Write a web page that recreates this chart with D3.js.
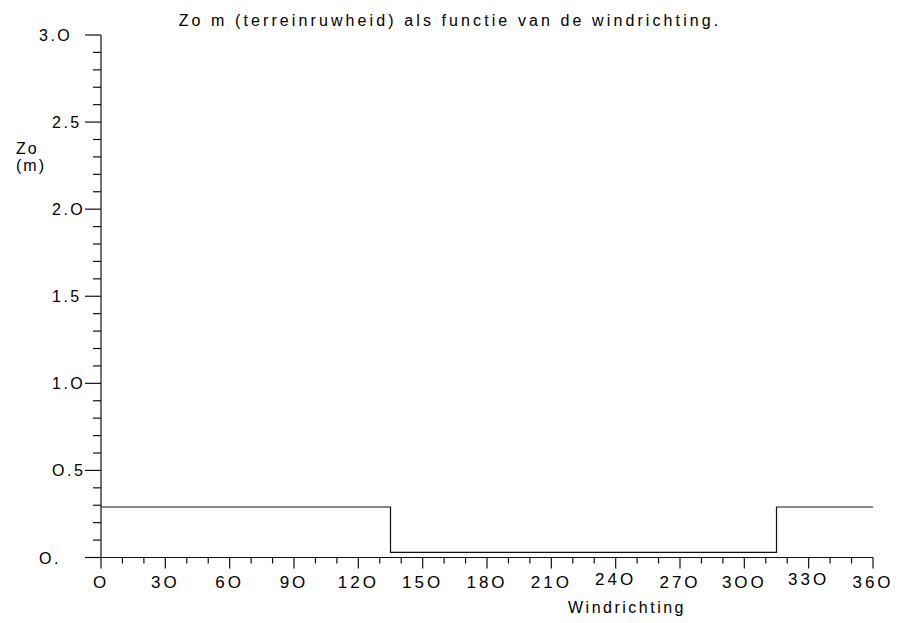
<!DOCTYPE html>
<html>
<head>
<meta charset="utf-8">
<script src="https://cdn.jsdelivr.net/npm/d3@7"></script>
<style>
  html, body { margin: 0; padding: 0; background: #fff; }
  svg { display: block; }
  text { font-family: "Liberation Sans", Arial, Helvetica, sans-serif; fill: #000; }
</style>
</head>
<body>
<svg id="chart" width="898" height="623"></svg>
<script>
// Roughness length Zo per wind-direction sector (degrees, metres)
const sectorStart = [0, 135, 315];
const sectorEnd   = [135, 315, 360];
const zoValues    = [0.29, 0.03, 0.29];

// Axis tick values and their printed labels
const xTickValues = [0, 30, 60, 90, 120, 150, 180, 210, 240, 270, 300, 330, 360];
const xTickLabels = ["O", "3O", "6O", "9O", "12O", "15O", "18O", "21O", "24O", "27O", "3OO", "33O", "36O"];
const yTickValues = [0, 0.5, 1.0, 1.5, 2.0, 2.5, 3.0];
const yTickLabels = ["O.", "O.5", "1.O", "1.5", "2.O", "2.5", "3.O"];

const titleText = "Zo m (terreinruwheid) als functie van de windrichting.";
const xTitle = "Windrichting";
const yTitle = ["Zo", "(m)"];

const svg = d3.select("#chart");

const x = d3.scaleLinear().domain([0, 360]).range([101, 873]);
const y = d3.scaleLinear().domain([0, 3]).range([557.5, 35]);

// Step line built from the sector table
const stepPts = [];
sectorStart.forEach((s, i) => {
  stepPts.push([s, zoValues[i]]);
  stepPts.push([sectorEnd[i], zoValues[i]]);
});
svg.append("path")
  .datum(stepPts)
  .attr("fill", "none")
  .attr("stroke", "#111")
  .attr("stroke-width", 1.2)
  .attr("d", d3.line().x(d => x(d[0])).y(d => y(d[1])));

// X axis: minor ticks every 10 degrees, major every 30
const xAxisG = svg.append("g").attr("transform", `translate(0,${y(0)})`);
xAxisG.append("line")
  .attr("x1", 85).attr("x2", x(360))
  .attr("stroke", "#111").attr("stroke-width", 1.2);
xAxisG.selectAll("line.minor")
  .data(d3.range(0, 361, 10))
  .join("line")
  .attr("class", "minor")
  .attr("x1", d => x(d)).attr("x2", d => x(d))
  .attr("y1", 0).attr("y2", d => d % 30 === 0 ? 11 : 6)
  .attr("stroke", "#111").attr("stroke-width", 1.2);
const xLift = { 240: -3, 330: -3 };
xAxisG.selectAll("text.tick")
  .data(xTickValues)
  .join("text")
  .attr("class", "tick")
  .attr("x", d => x(d))
  .attr("y", d => 30 + (xLift[d] || 0))
  .attr("text-anchor", "middle")
  .style("font-size", "17px")
  .style("letter-spacing", "3px")
  .text((d, i) => xTickLabels[i]);

// Y axis: minor ticks every 0.1, major every 0.5
const yAxisG = svg.append("g").attr("transform", `translate(${x(0)},0)`);
yAxisG.append("line")
  .attr("y1", y(3)).attr("y2", y(0))
  .attr("stroke", "#111").attr("stroke-width", 1.2);
yAxisG.selectAll("line.minor")
  .data(d3.range(0, 31).map(d => d / 10))
  .join("line")
  .attr("class", "minor")
  .attr("y1", d => y(d)).attr("y2", d => y(d))
  .attr("x1", (d, i) => i % 5 === 0 ? -16 : -8).attr("x2", 0)
  .attr("stroke", "#111").attr("stroke-width", 1.2);
yAxisG.selectAll("text.tick")
  .data(yTickValues)
  .join("text")
  .attr("class", "tick")
  .attr("x", (d, i) => (i === 0 || i === yTickValues.length - 1) ? -62 : -49)
  .attr("y", d => y(d) + 6)
  .style("font-size", "16px")
  .style("letter-spacing", "2.5px")
  .text((d, i) => yTickLabels[i]);

// Titles
svg.append("text")
  .attr("x", 450).attr("y", 26)
  .attr("text-anchor", "middle")
  .style("font-size", "16px")
  .style("letter-spacing", "3.1px")
  .text(titleText);

svg.append("text")
  .attr("x", 627).attr("y", 613)
  .attr("text-anchor", "middle")
  .style("font-size", "16px")
  .style("letter-spacing", "2.5px")
  .text(xTitle);

svg.selectAll("text.ytitle")
  .data(yTitle)
  .join("text")
  .attr("class", "ytitle")
  .attr("x", 16)
  .attr("y", (d, i) => 154 + i * 17)
  .style("font-size", "16px")
  .style("letter-spacing", "2px")
  .text(d => d);
</script>
</body>
</html>
